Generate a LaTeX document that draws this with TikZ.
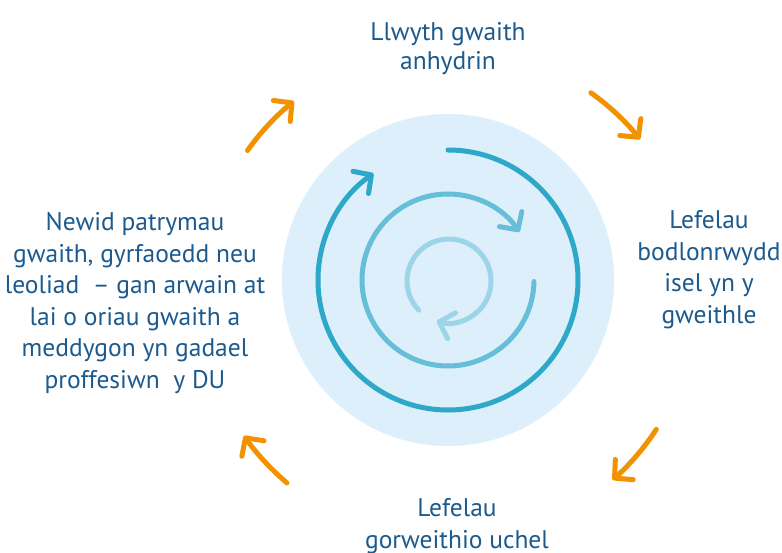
\documentclass[tikz,border=0pt]{standalone}
\usepackage{fontspec}
\setmainfont{PT Sans}
\usepackage{xcolor}
\usepackage{tikz}
\usetikzlibrary{arrows.meta}
\definecolor{cycink}{HTML}{1C5A8E}
\definecolor{cycorange}{HTML}{F39200}
\definecolor{cycdisc}{HTML}{DDEFFA}
\definecolor{ringdark}{HTML}{2DA8C8}
\definecolor{ringmid}{HTML}{66BED8}
\definecolor{ringlight}{HTML}{9CD5E8}

\begin{document}
\begin{tikzpicture}[x=1pt, y=1pt,
  txt/.style={text=cycink, align=center, inner sep=0pt, anchor=base, font=\fontsize{25.5}{31.5}\selectfont},
  ring/.style={line width=5pt, line cap=round, -{Straight Barb[round, length=13pt, width=27pt]}},
  turn/.style={draw=cycorange, line width=5pt, line cap=round, -{Straight Barb[round, length=13pt, width=27pt]}}]
  \useasboundingbox (0,0) rectangle (782,-552);
  \coordinate (hub) at (448,-280);
  \coordinate (core) at (449,-281);
  \coordinate (orbit) at (448,-293);

  % labels round the cycle (anchored on last baseline)
  \node[txt, font=\fontsize{25.5}{29}\selectfont] (burden) at (448,-69.5) {Llwyth gwaith\\anhydrin};
  \node[txt] (morale) at (709,-323.3) {Lefelau\\bodlonrwydd\\isel yn y\\gweithle};
  \node[txt] (overwork) at (457,-548) {Lefelau\\gorweithio uchel};
  \node[txt] (exodus) at (135,-388) {Newid patrymau\\gwaith, gyrfaoedd neu\\leoliad\ \ -- gan arwain at\\lai o oriau gwaith a\\meddygon yn gadael\\proffesiwn\ \ y DU};

  % centre
  \fill[cycdisc] (hub) circle[radius=166];
  \draw[ring, draw=ringdark] (hub) ++(90:130) arc[start angle=90, end angle=-235, radius=130];
  \draw[ring, draw=ringmid] (hub) ++(-1:86) arc[start angle=-1, end angle=-326, radius=86];
  \draw[ring, draw=ringlight] (core) ++(224:42) arc[start angle=224, end angle=-107, radius=42];

  % orange arrows
  \draw[turn] (orbit) ++(144.6:246) arc[start angle=144.6, end angle=128.8, radius=246];
  \draw[turn] (orbit) ++(54.5:246) arc[start angle=54.5, end angle=38.7, radius=246];
  \draw[turn] (orbit) ++(-33.2:249) arc[start angle=-33.2, end angle=-48.6, radius=249];
  \draw[turn] (orbit) ++(229.7:249) arc[start angle=229.7, end angle=215, radius=249];
\end{tikzpicture}
\end{document}
